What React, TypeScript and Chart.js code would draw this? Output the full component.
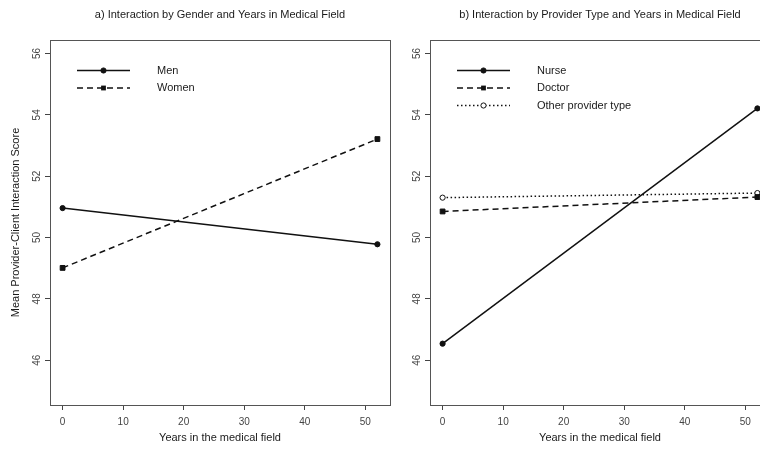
import React, { useEffect, useRef } from "react";
import { Chart, registerables } from "chart.js";

Chart.register(...registerables);

// ---- data ----
const years = [0, 52];
const menScores = [50.96, 49.78];
const womenScores = [49.01, 53.21];
const nurseScores = [46.54, 54.21];
const doctorScores = [50.85, 51.32];
const otherScores = [51.3, 51.45];

const xTicks = [0, 10, 20, 30, 40, 50];
const yTicks = [46, 48, 50, 52, 54, 56];

const titleA = "a) Interaction by Gender and Years in Medical Field";
const titleB = "b) Interaction by Provider Type and Years in Medical Field";
const xTitle = "Years in the medical field";
const yTitle = "Mean Provider-Client Interaction Score";

const X_MIN = -2.08;
const X_MAX = 54.08;
const Y_MIN = 44.54;
const Y_MAX = 56.44;

const FONT = "'Liberation Sans', Arial, sans-serif";
const INK = "#111";

type Series = { label: string; values: number[]; dash: number[]; point: "circle" | "rect"; filled: boolean };

const seriesA: Series[] = [
  { label: "Men", values: menScores, dash: [], point: "circle", filled: true },
  { label: "Women", values: womenScores, dash: [6, 4], point: "rect", filled: true },
];
const seriesB: Series[] = [
  { label: "Nurse", values: nurseScores, dash: [], point: "circle", filled: true },
  { label: "Doctor", values: doctorScores, dash: [6, 4], point: "rect", filled: true },
  { label: "Other provider type", values: otherScores, dash: [1.5, 2.5], point: "circle", filled: false },
];

function buildDatasets(series: Series[]) {
  return series.map((s) => ({
    label: s.label,
    data: years.map((x, i) => ({ x, y: s.values[i] })),
    borderColor: INK,
    borderWidth: 1.5,
    borderDash: s.dash,
    pointStyle: s.point,
    pointRadius: s.point === "rect" ? 3.4 : 2.6,
    pointBackgroundColor: s.filled ? INK : "#fff",
    pointBorderColor: INK,
    pointBorderWidth: 1,
    showLine: true,
    fill: false,
    tension: 0,
  }));
}

const decorPlugin = {
  id: "panelDecor",
  afterDraw(chart: any, _args: any, opts: any) {
    const { ctx, chartArea: a } = chart;
    ctx.save();
    // box
    ctx.strokeStyle = "#555";
    ctx.lineWidth = 1;
    ctx.setLineDash([]);
    ctx.strokeRect(Math.round(a.left) + 0.5, Math.round(a.top) + 0.5, Math.round(a.right - a.left), Math.round(a.bottom - a.top));
    // title
    ctx.font = `11px ${FONT}`;
    ctx.fillStyle = "#1a1a1a";
    ctx.textAlign = "center";
    ctx.textBaseline = "middle";
    ctx.fillText(opts.title, (a.left + a.right) / 2, 15);
    // legend
    chart.data.datasets.forEach((ds: any, i: number) => {
      const y = a.top + 30.5 + i * 17.5;
      const x0 = a.left + 27;
      const x1 = a.left + 80;
      ctx.strokeStyle = INK;
      ctx.lineWidth = 1.5;
      ctx.setLineDash(ds.borderDash || []);
      ctx.beginPath();
      ctx.moveTo(x0, y);
      ctx.lineTo(x1, y);
      ctx.stroke();
      ctx.setLineDash([]);
      const mx = (x0 + x1) / 2;
      ctx.fillStyle = ds.pointBackgroundColor;
      ctx.strokeStyle = INK;
      ctx.lineWidth = 1;
      if (ds.pointStyle === "rect") {
        ctx.fillRect(mx - 2.4, y - 2.4, 4.8, 4.8);
      } else {
        ctx.beginPath();
        ctx.arc(mx, y, 2.6, 0, Math.PI * 2);
        ctx.fill();
        ctx.stroke();
      }
      ctx.fillStyle = "#1a1a1a";
      ctx.font = `11px ${FONT}`;
      ctx.textAlign = "left";
      ctx.textBaseline = "middle";
      ctx.fillText(ds.label, a.left + 107, y);
    });
    ctx.restore();
  },
};

function makeConfig(series: Series[], title: string, showYTitle: boolean): any {
  return {
    type: "scatter",
    data: { datasets: buildDatasets(series) },
    plugins: [decorPlugin],
    options: {
      responsive: false,
      animation: false,
      layout: { padding: { top: 40, right: 10, left: 0, bottom: 0 } },
      plugins: {
        legend: { display: false },
        tooltip: { enabled: false },
        title: { display: false },
        panelDecor: { title },
      },
      scales: {
        x: {
          type: "linear",
          position: "bottom",
          min: X_MIN,
          max: X_MAX,
          afterBuildTicks: (s: any) => {
            s.ticks = xTicks.map((v) => ({ value: v }));
          },
          afterFit: (s: any) => {
            s.height = 45;
          },
          ticks: {
            font: { family: FONT, size: 10 },
            color: "#444",
            padding: 6,
            maxRotation: 0,
            minRotation: 0,
            callback: (v: number) => String(v),
          },
          grid: { drawOnChartArea: false, drawTicks: true, tickLength: 5, color: "#444" },
          border: { display: false },
          title: {
            display: true,
            text: xTitle,
            font: { family: FONT, size: 11 },
            color: "#1a1a1a",
            padding: { top: 0, bottom: 5 },
          },
        },
        y: {
          type: "linear",
          position: "left",
          min: Y_MIN,
          max: Y_MAX,
          afterBuildTicks: (s: any) => {
            s.ticks = yTicks.map((v) => ({ value: v }));
          },
          afterFit: (s: any) => {
            s.width = 50;
          },
          ticks: {
            font: { family: FONT, size: 10 },
            color: "#444",
            padding: 2,
            minRotation: 90,
            maxRotation: 90,
            crossAlign: "center",
            callback: (v: number) => String(v),
          },
          grid: { drawOnChartArea: false, drawTicks: true, tickLength: 5, color: "#444" },
          border: { display: false },
          title: {
            display: showYTitle,
            text: yTitle,
            font: { family: FONT, size: 11 },
            color: "#1a1a1a",
            padding: { top: 9, bottom: 0 },
          },
        },
      },
    },
  };
}

export default function App() {
  const refA = useRef<HTMLCanvasElement>(null);
  const refB = useRef<HTMLCanvasElement>(null);

  useEffect(() => {
    const a = new Chart(refA.current as HTMLCanvasElement, makeConfig(seriesA, titleA, true));
    const b = new Chart(refB.current as HTMLCanvasElement, makeConfig(seriesB, titleB, false));
    return () => {
      a.destroy();
      b.destroy();
    };
  }, []);

  return (
    <div
      style={{
        position: "fixed",
        left: 0,
        top: 0,
        width: 760,
        height: 450,
        overflow: "hidden",
        background: "#fff",
      }}
    >
      <canvas ref={refA} width={400} height={450} style={{ position: "absolute", left: 0, top: 0, width: 400, height: 450 }} />
      <canvas ref={refB} width={400} height={450} style={{ position: "absolute", left: 380, top: 0, width: 400, height: 450 }} />
    </div>
  );
}
